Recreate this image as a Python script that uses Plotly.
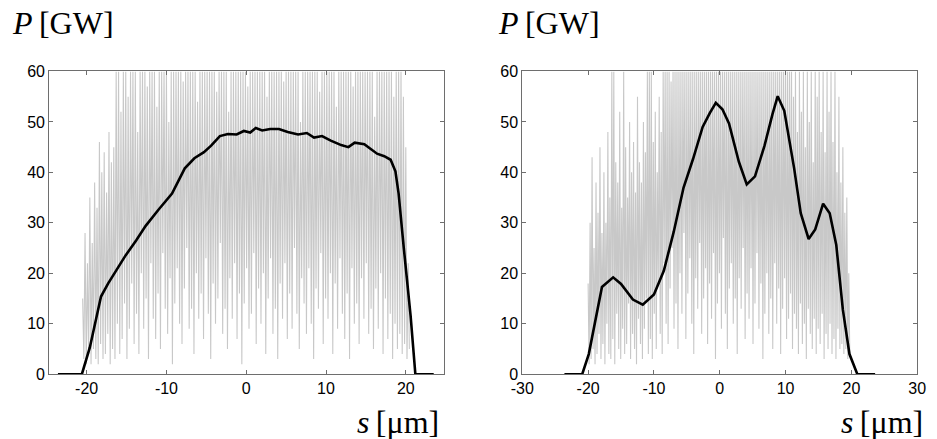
import plotly.graph_objects as go

# ---------------- data ----------------
# Left panel: averaged power profile (black)
left_avg_s = [-23.6, -20.6, -19.6, -18.8, -18.2, -17.3, -16.3, -15.1, -13.8, -12.6, -11.0, -9.3,
              -7.7, -6.5, -5.3, -4.4, -3.3, -2.3, -1.2, -0.3, 0.5, 1.2, 2.0, 3.0, 4.1, 5.2,
              6.5, 7.6, 8.5, 9.5, 10.6, 11.9, 12.8, 13.6, 14.8, 15.6, 16.4, 17.3, 18.1, 18.7,
              19.1, 19.75, 20.6, 21.2, 23.5]
left_avg_p = [0, 0, 5.3, 11.0, 15.4, 18.0, 20.5, 23.6, 26.5, 29.4, 32.6, 35.8,
              40.8, 42.8, 44.0, 45.3, 47.2, 47.6, 47.5, 48.2, 47.9, 48.8, 48.3, 48.6, 48.6, 48.0,
              47.5, 47.8, 46.9, 47.2, 46.3, 45.4, 45.0, 45.9, 45.6, 44.6, 43.7, 43.2, 42.5, 40.2,
              35.8, 25.0, 11.6, 0, 0]

# Right panel: averaged power profile (black)
right_avg_s = [-23.6, -20.9, -19.9, -18.9, -17.9, -16.2, -15.0, -13.2, -11.7, -10.0, -8.5, -7.0,
               -5.5, -4.05, -2.6, -1.5, -0.6, 0.4, 1.4, 2.9, 4.1, 5.35, 6.8, 8.0, 8.8, 9.8,
               11.3, 12.3, 13.5, 14.5, 15.7, 16.7, 17.7, 18.7, 19.7, 20.9, 23.6]
right_avg_p = [0, 0, 4.0, 10.5, 17.3, 19.2, 17.9, 14.8, 13.8, 15.8, 20.5, 28.2,
               37.0, 42.7, 49.0, 51.8, 53.8, 52.5, 49.7, 42.1, 37.6, 39.2, 45.3, 51.5, 55.1, 52.2,
               40.8, 31.9, 26.8, 28.7, 33.8, 31.9, 25.6, 12.8, 4.0, 0, 0]

# Single-shot spiky profiles (grey): peak and trough heights, read by eye
left_noise_start, left_noise_step = -20.5, 0.3
left_peaks = [15, 28, 22, 35, 26, 38, 33, 46, 40, 44,
              36, 48, 42, 45, 60, 60, 52, 60, 60, 55,
              60, 60, 60, 48, 60, 60, 60, 57, 60, 60,
              60, 53, 60, 60, 60, 60, 50, 60, 60, 60,
              60, 60, 58, 60, 60, 60, 60, 60, 54, 60,
              60, 60, 60, 60, 60, 60, 56, 60, 60, 60,
              60, 52, 60, 60, 60, 60, 60, 60, 60, 57,
              60, 60, 60, 60, 60, 60, 60, 55, 60, 60,
              60, 60, 60, 60, 58, 60, 60, 60, 60, 60,
              60, 50, 60, 60, 60, 60, 60, 60, 60, 56,
              60, 60, 60, 60, 60, 60, 53, 60, 60, 60,
              60, 60, 60, 57, 60, 60, 60, 60, 60, 60,
              60, 60, 51, 60, 60, 60, 60, 60, 60, 60,
              55, 60, 60, 60, 55, 45, 22]
left_troughs = [3, 2, 4, 2, 5, 3, 2, 6, 3, 4,
                8, 2, 5, 3, 10, 4, 7, 14, 3, 9,
                18, 6, 12, 4, 20, 9, 15, 3, 22, 11,
                7, 16, 5, 24, 13, 8, 19, 2, 14, 21,
                10, 6, 17, 25, 9, 13, 4, 20, 11, 16,
                7, 23, 12, 3, 18, 10, 15, 26, 8, 13,
                5, 19, 11, 22, 7, 16, 2, 14, 21, 9,
                12, 24, 6, 17, 10, 20, 4, 15, 23, 8,
                13, 3, 18, 11, 22, 7, 16, 9, 25, 12,
                5, 19, 14, 8, 21, 10, 3, 17, 13, 24,
                6, 15, 11, 20, 4, 18, 9, 23, 12, 7,
                16, 3, 21, 10, 14, 6, 19, 11, 22, 8,
                13, 5, 17, 9, 20, 4, 15, 7, 12, 3,
                10, 5, 8, 4, 6, 3, 5]

right_noise_start, right_noise_step = -20.0, 0.3
right_peaks = [18, 30, 43, 25, 38, 32, 45, 28, 40, 30,
               48, 35, 60, 60, 42, 38, 52, 33, 60, 45,
               35, 50, 40, 46, 36, 55, 42, 38, 50, 44,
               60, 60, 60, 46, 52, 40, 55, 48, 60, 60,
               60, 60, 58, 60, 60, 60, 60, 60, 60, 60,
               60, 60, 60, 60, 60, 60, 60, 60, 60, 60,
               60, 60, 60, 60, 60, 60, 60, 60, 60, 60,
               60, 60, 60, 60, 60, 60, 60, 60, 60, 60,
               60, 60, 60, 60, 60, 60, 60, 60, 60, 60,
               60, 60, 60, 60, 60, 60, 60, 60, 60, 60,
               60, 60, 60, 60, 55, 60, 48, 60, 52, 60,
               45, 60, 50, 60, 42, 60, 55, 60, 48, 60,
               44, 60, 52, 60, 46, 60, 40, 55, 38, 45,
               32, 35, 20]
right_troughs = [2, 3, 5, 2, 4, 8, 3, 6, 2, 10,
                 4, 3, 7, 2, 12, 5, 3, 9, 4, 6,
                 14, 3, 8, 5, 2, 11, 6, 3, 9, 15,
                 4, 7, 3, 12, 5, 18, 8, 4, 22, 10,
                 6, 17, 25, 9, 14, 5, 20, 12, 28, 7,
                 16, 23, 10, 4, 19, 13, 26, 8, 15, 21,
                 6, 18, 11, 24, 3, 14, 20, 9, 27, 12,
                 5, 17, 22, 10, 15, 4, 19, 13, 25, 7,
                 16, 11, 21, 6, 14, 24, 9, 18, 3, 12,
                 20, 8, 15, 5, 22, 10, 17, 4, 13, 19,
                 7, 11, 16, 5, 12, 9, 4, 14, 6, 10,
                 3, 13, 8, 5, 11, 4, 9, 6, 12, 3,
                 8, 5, 10, 4, 7, 3, 9, 5, 6, 4,
                 5, 3, 4]

x_ticks_left = [-20, -10, 0, 10, 20]
x_ticks_right = [-30, -20, -10, 0, 10, 20, 30]
y_ticks = [0, 10, 20, 30, 40, 50, 60]


def zigzag(start, step, peaks, troughs):
    n = min(len(peaks), len(troughs))
    xs, ys = [], []
    for i in range(n):
        s0 = start + i * step
        xs += [s0, s0 + step / 2]
        ys += [peaks[i], troughs[i]]
    return xs, ys


def labels(vals):
    return [str(v) for v in vals]  # plain hyphen-minus like the original


lx, ly = zigzag(left_noise_start, left_noise_step, left_peaks, left_troughs)
rx, ry = zigzag(right_noise_start, right_noise_step, right_peaks, right_troughs)

W, H = 937, 439
grey = "rgb(200,200,200)"

fig = go.Figure()
fig.add_trace(go.Scatter(x=lx, y=ly, mode="lines", line=dict(color=grey, width=1.1),
                         xaxis="x", yaxis="y", showlegend=False, hoverinfo="skip"))
fig.add_trace(go.Scatter(x=left_avg_s, y=left_avg_p, mode="lines",
                         line=dict(color="black", width=2.6), xaxis="x", yaxis="y",
                         showlegend=False))
fig.add_trace(go.Scatter(x=rx, y=ry, mode="lines", line=dict(color=grey, width=1.1),
                         xaxis="x2", yaxis="y2", showlegend=False, hoverinfo="skip"))
fig.add_trace(go.Scatter(x=right_avg_s, y=right_avg_p, mode="lines",
                         line=dict(color="black", width=2.6), xaxis="x2", yaxis="y2",
                         showlegend=False))

axis_common = dict(showline=True, linecolor="#6e6e6e", linewidth=1, mirror="ticks",
                   ticks="inside", ticklen=4, tickcolor="#6e6e6e", showgrid=False,
                   zeroline=False, tickfont=dict(family="Liberation Sans", size=16, color="black"))

y_dom = [(H - 381) / H, (H - 66) / H]
fig.update_layout(
    width=W, height=H, margin=dict(l=0, r=0, t=0, b=0),
    paper_bgcolor="white", plot_bgcolor="white",
    xaxis=dict(domain=[38 / W, 442 / W], range=[-24.7, 24.8], tickvals=x_ticks_left,
               ticktext=labels(x_ticks_left), anchor="y", **axis_common),
    yaxis=dict(domain=y_dom, range=[0, 60], tickvals=y_ticks, ticktext=labels(y_ticks),
               anchor="x", **axis_common),
    xaxis2=dict(domain=[522 / W, 926 / W], range=[-30, 30], tickvals=x_ticks_right,
                ticktext=labels(x_ticks_right), anchor="y2", **axis_common),
    yaxis2=dict(domain=y_dom, range=[0, 60], tickvals=y_ticks, ticktext=labels(y_ticks),
                anchor="x2", **axis_common),
)

title_font = dict(family="Liberation Serif", size=32, color="black")
for xc in (52, 549):
    fig.add_annotation(x=xc / W, y=1 + 5 / H, xref="paper", yref="paper", xanchor="center",
                       yanchor="top", text="<i>P</i>\u2009[GW]", showarrow=False,
                       font=title_font)
for xc in (395, 890):
    fig.add_annotation(x=xc / W, y=-12 / H, xref="paper", yref="paper", xanchor="center",
                       yanchor="bottom", text="<i>s</i>\u2009[μm]", showarrow=False,
                       font=title_font)

fig.write_html("out.html")
